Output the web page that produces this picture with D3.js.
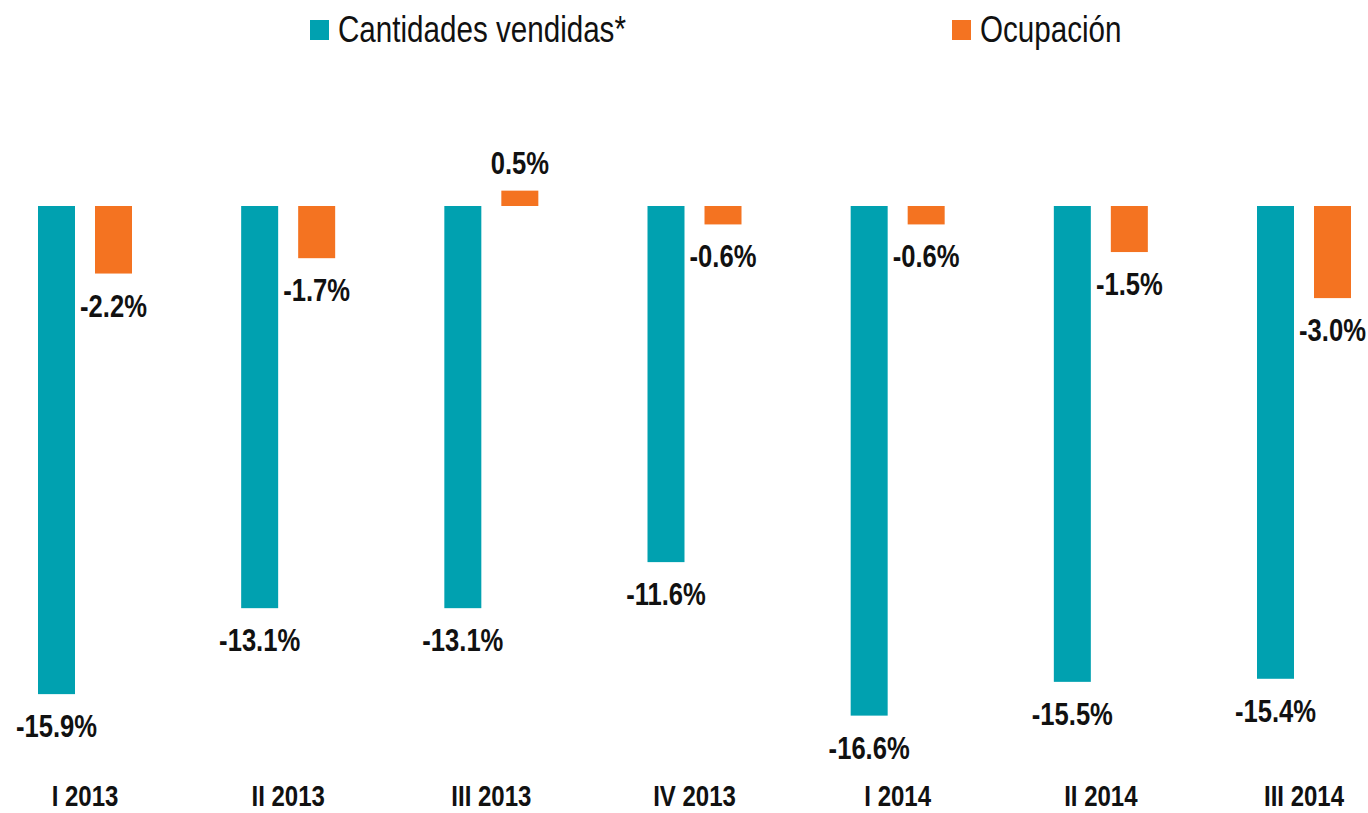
<!DOCTYPE html>
<html>
<head>
<meta charset="utf-8">
<script src="https://cdn.jsdelivr.net/npm/d3@7"></script>
<style>
  body { margin: 0; background: #fff; }
  text { font-family: "Liberation Sans", Arial, sans-serif; }
</style>
</head>
<body>
<script>
/* DATA */
var categories = ['I 2013', 'II 2013', 'III 2013', 'IV 2013', 'I 2014', 'II 2014', 'III 2014'];
var seriesNames = ['Cantidades vendidas*', 'Ocupación'];
var cantidades = [-15.9, -13.1, -13.1, -11.6, -16.6, -15.5, -15.4];
var ocupacion = [-2.2, -1.7, 0.5, -0.6, -0.6, -1.5, -3.0];
var seriesColors = ['#00A1B0', '#F47321'];

/* SIZES */
var width = 1368;
var height = 813;
var zeroY = 206;
var pxPerPoint = 30.7;
var narrow = 0.8; // horizontal squeeze, no condensed font installed

var svg = d3.select('body').append('svg')
    .attr('width', width)
    .attr('height', height);

// group centres
var x = d3.scalePoint()
    .domain(categories)
    .range([85, 1304]);

// bar within group
var xInner = d3.scaleBand()
    .domain(seriesNames)
    .range([-47, 47])
    .paddingInner(0.351);

var y = d3.scaleLinear()
    .domain([0, -1])
    .range([zeroY, zeroY + pxPerPoint]);

var rows = categories.map((c, i) => ({cat: c, values: [cantidades[i], ocupacion[i]]}));

var groups = svg.selectAll('g.group')
    .data(rows)
    .enter().append('g')
    .attr('class', 'group')
    .attr('transform', d => `translate(${x(d.cat)},0)`);

var bars = groups.selectAll('g.bar')
    .data(d => d.values.map((v, j) => ({name: seriesNames[j], value: v, color: seriesColors[j]})))
    .enter().append('g')
    .attr('class', 'bar');

bars.append('rect')
    .attr('x', d => xInner(d.name))
    .attr('width', xInner.bandwidth())
    .attr('y', d => Math.min(y(d.value), y(0)))
    .attr('height', d => Math.abs(y(d.value) - y(0)))
    .attr('fill', d => d.color);

bars.append('text')
    .attr('transform', d => {
        var tx = xInner(d.name) + xInner.bandwidth() / 2;
        var ty = d.value < 0 ? y(d.value) + 43 : y(d.value) - 17;
        return `translate(${tx},${ty}) scale(${narrow},1)`;
    })
    .attr('text-anchor', 'middle')
    .style('font-size', '32px')
    .style('font-weight', 'bold')
    .attr('fill', '#111')
    .text(d => d3.format('.1f')(d.value).replace('−', '-') + '%');

// category labels
svg.append('g').selectAll('text')
    .data(categories)
    .enter().append('text')
    .attr('transform', d => `translate(${x(d)},806) scale(${narrow},1)`)
    .attr('text-anchor', 'middle')
    .style('font-size', '30px')
    .style('font-weight', 'bold')
    .attr('fill', '#111')
    .text(d => d);

// legend
var legendX = [310, 952];
var legend = svg.append('g').selectAll('g')
    .data(seriesNames)
    .enter().append('g')
    .attr('transform', (d, i) => `translate(${legendX[i]},20)`);

legend.append('rect')
    .attr('width', 19)
    .attr('height', 20)
    .attr('fill', (d, i) => seriesColors[i]);

legend.append('text')
    .attr('transform', `translate(28,22) scale(${narrow},1)`)
    .style('font-size', '37px')
    .attr('fill', '#111')
    .text(d => d);
</script>
</body>
</html>
